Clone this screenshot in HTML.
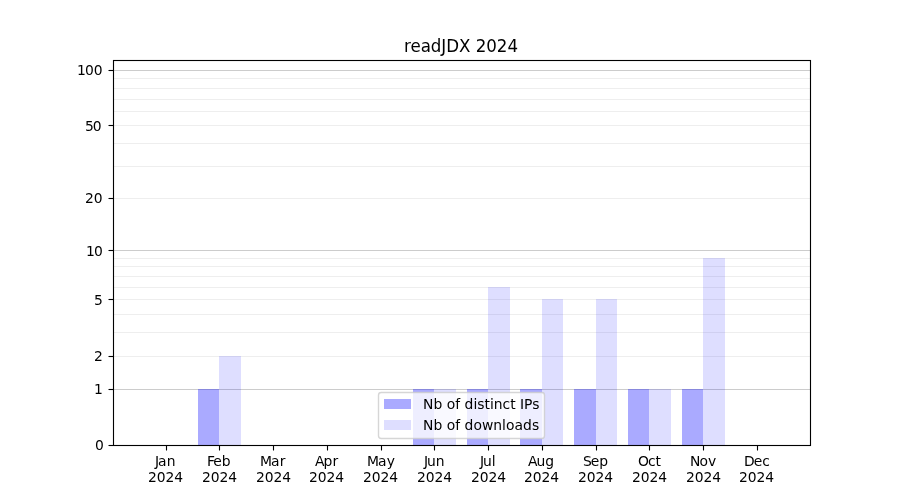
<!DOCTYPE html>
<html lang="en">
<head>
<meta charset="utf-8">
<title>readJDX 2024</title>
<style>
html,body{margin:0;padding:0;background:#fff;}
body{width:900px;height:500px;overflow:hidden;}
svg{display:block;}
text{font-family:"DejaVu Sans","Liberation Sans",sans-serif;fill:#000;white-space:pre;}
.t10{font-size:13.889px;}
.t12{font-size:16.667px;}
.sp{stroke:#000;stroke-width:1.111;fill:none;}
</style>
</head>
<body>
<svg width="900" height="500" viewBox="0 0 900 500">
<rect x="0" y="0" width="900" height="500" fill="#fff"/>
<g shape-rendering="crispEdges">
<rect x="113" y="389" width="698" height="1" fill="#cccccc"/>
<rect x="113" y="250" width="698" height="1" fill="#cccccc"/>
<rect x="113" y="70" width="698" height="1" fill="#cccccc"/>
<rect x="113" y="356" width="698" height="1" fill="#eeeeee"/>
<rect x="113" y="332" width="698" height="1" fill="#eeeeee"/>
<rect x="113" y="314" width="698" height="1" fill="#eeeeee"/>
<rect x="113" y="299" width="698" height="1" fill="#eeeeee"/>
<rect x="113" y="287" width="698" height="1" fill="#eeeeee"/>
<rect x="113" y="276" width="698" height="1" fill="#eeeeee"/>
<rect x="113" y="266" width="698" height="1" fill="#eeeeee"/>
<rect x="113" y="258" width="698" height="1" fill="#eeeeee"/>
<rect x="113" y="198" width="698" height="1" fill="#eeeeee"/>
<rect x="113" y="166" width="698" height="1" fill="#eeeeee"/>
<rect x="113" y="143" width="698" height="1" fill="#eeeeee"/>
<rect x="113" y="125" width="698" height="1" fill="#eeeeee"/>
<rect x="113" y="111" width="698" height="1" fill="#eeeeee"/>
<rect x="113" y="99" width="698" height="1" fill="#eeeeee"/>
<rect x="113" y="88" width="698" height="1" fill="#eeeeee"/>
<rect x="113" y="78" width="698" height="1" fill="#eeeeee"/>
<rect x="198" y="389" width="21" height="56" fill="#0000ff" fill-opacity="0.3333"/>
<rect x="219" y="356" width="22" height="89" fill="#0000ff" fill-opacity="0.13"/>
<rect x="413" y="389" width="21" height="56" fill="#0000ff" fill-opacity="0.3333"/>
<rect x="434" y="389" width="22" height="56" fill="#0000ff" fill-opacity="0.13"/>
<rect x="467" y="389" width="21" height="56" fill="#0000ff" fill-opacity="0.3333"/>
<rect x="488" y="287" width="22" height="158" fill="#0000ff" fill-opacity="0.13"/>
<rect x="520" y="389" width="22" height="56" fill="#0000ff" fill-opacity="0.3333"/>
<rect x="542" y="299" width="21" height="146" fill="#0000ff" fill-opacity="0.13"/>
<rect x="574" y="389" width="22" height="56" fill="#0000ff" fill-opacity="0.3333"/>
<rect x="596" y="299" width="21" height="146" fill="#0000ff" fill-opacity="0.13"/>
<rect x="628" y="389" width="21" height="56" fill="#0000ff" fill-opacity="0.3333"/>
<rect x="649" y="389" width="22" height="56" fill="#0000ff" fill-opacity="0.13"/>
<rect x="682" y="389" width="21" height="56" fill="#0000ff" fill-opacity="0.3333"/>
<rect x="703" y="258" width="22" height="187" fill="#0000ff" fill-opacity="0.13"/>
<rect x="113" y="59" width="698" height="1" fill="#000" fill-opacity="0.055"/>
<rect x="114" y="61" width="696" height="1" fill="#000" fill-opacity="0.055"/>
<rect x="114" y="444" width="696" height="1" fill="#000" fill-opacity="0.055"/>
<rect x="113" y="446" width="698" height="1" fill="#000" fill-opacity="0.055"/>
</g>
<g class="sp">
<path d="M113.5 60.5H810.5V445.5H113.5Z" stroke-linejoin="miter"/>
<path d="M166.5 446V450.5"/>
<path d="M219.5 446V450.5"/>
<path d="M273.5 446V450.5"/>
<path d="M327.5 446V450.5"/>
<path d="M381.5 446V450.5"/>
<path d="M434.5 446V450.5"/>
<path d="M488.5 446V450.5"/>
<path d="M542.5 446V450.5"/>
<path d="M596.5 446V450.5"/>
<path d="M649.5 446V450.5"/>
<path d="M703.5 446V450.5"/>
<path d="M757.5 446V450.5"/>
<path d="M108.5 445.5H113"/>
<path d="M108.5 389.5H113"/>
<path d="M108.5 356.5H113"/>
<path d="M108.5 299.5H113"/>
<path d="M108.5 250.5H113"/>
<path d="M108.5 198.5H113"/>
<path d="M108.5 125.5H113"/>
<path d="M108.5 70.5H113"/>
</g>
<text class="t10" x="155 158 166.625" y="466">Jan</text>
<text class="t10" x="148 156.75 165.5 174.25" y="482">2024</text>
<text class="t10" x="207 213.25 221.75" y="466">Feb</text>
<text class="t10" x="202 210.75 219.5 228.25" y="482">2024</text>
<text class="t10" x="260 271 279.625" y="466">Mar</text>
<text class="t10" x="256 264.75 273.5 282.25" y="482">2024</text>
<text class="t10" x="315 323.5 332.375" y="466">Apr</text>
<text class="t10" x="309 317.75 326.5 335.25" y="482">2024</text>
<text class="t10" x="367 378 386.625" y="466">May</text>
<text class="t10" x="363 371.75 380.5 389.25" y="482">2024</text>
<text class="t10" x="424 427 435.75" y="466">Jun</text>
<text class="t10" x="417 425.75 434.5 443.25" y="482">2024</text>
<text class="t10" x="480 483 491.75" y="466">Jul</text>
<text class="t10" x="471 479.75 488.5 497.25" y="482">2024</text>
<text class="t10" x="528 536.5 545.25" y="466">Aug</text>
<text class="t10" x="524 532.75 541.5 550.25" y="482">2024</text>
<text class="t10" x="583 590.75 599.25" y="466">Sep</text>
<text class="t10" x="578 586.75 595.5 604.25" y="482">2024</text>
<text class="t10" x="638 647.875 655.5" y="466">Oct</text>
<text class="t10" x="632 640.75 649.5 658.25" y="482">2024</text>
<text class="t10" x="690 699.375 707.875" y="466">Nov</text>
<text class="t10" x="686 694.75 703.5 712.25" y="482">2024</text>
<text class="t10" x="744 753.75 762.25" y="466">Dec</text>
<text class="t10" x="739 747.75 756.5 765.25" y="482">2024</text>
<text class="t10" x="95" y="450">0</text>
<text class="t10" x="94" y="394">1</text>
<text class="t10" x="94" y="361">2</text>
<text class="t10" x="94" y="305">5</text>
<text class="t10" x="86 93.875" y="256">10</text>
<text class="t10" x="85 93.75" y="203">20</text>
<text class="t10" x="85 92.75" y="131">50</text>
<text class="t10" x="77 84.875 93.625" y="75">100</text>
<text class="t12" x="404 410.5 420.75 430.875 441.375 446.25 459.125 470.5 475.75 486.375 496.875 507.5" y="52" transform="matrix(1 0 0 1.07 0 -3.64)">readJDX 2024</text>
<rect x="378.5" y="392.5" width="166" height="46" rx="2.78" ry="2.78" fill="#fff" fill-opacity="0.8" stroke="#cccccc" stroke-opacity="0.8" stroke-width="1.389"/>
<g shape-rendering="crispEdges">
<rect x="384" y="399" width="27" height="10" fill="#0000ff" fill-opacity="0.3333"/>
<rect x="384" y="420" width="27" height="10" fill="#0000ff" fill-opacity="0.13"/>
</g>
<text class="t10" x="423 433.375 442.25 446.625 455.125 460.125 464.5 473.375 477.25 484.375 489.875 493.75 502.5 510.125 515.625 520 524 532.125" y="409">Nb of distinct IPs</text>
<text class="t10" x="423 433.375 442.25 446.625 455.125 460.125 464.5 473.375 481.875 493.25 502 505.875 514.375 523 531.875" y="430">Nb of downloads</text>
</svg>
</body>
</html>
